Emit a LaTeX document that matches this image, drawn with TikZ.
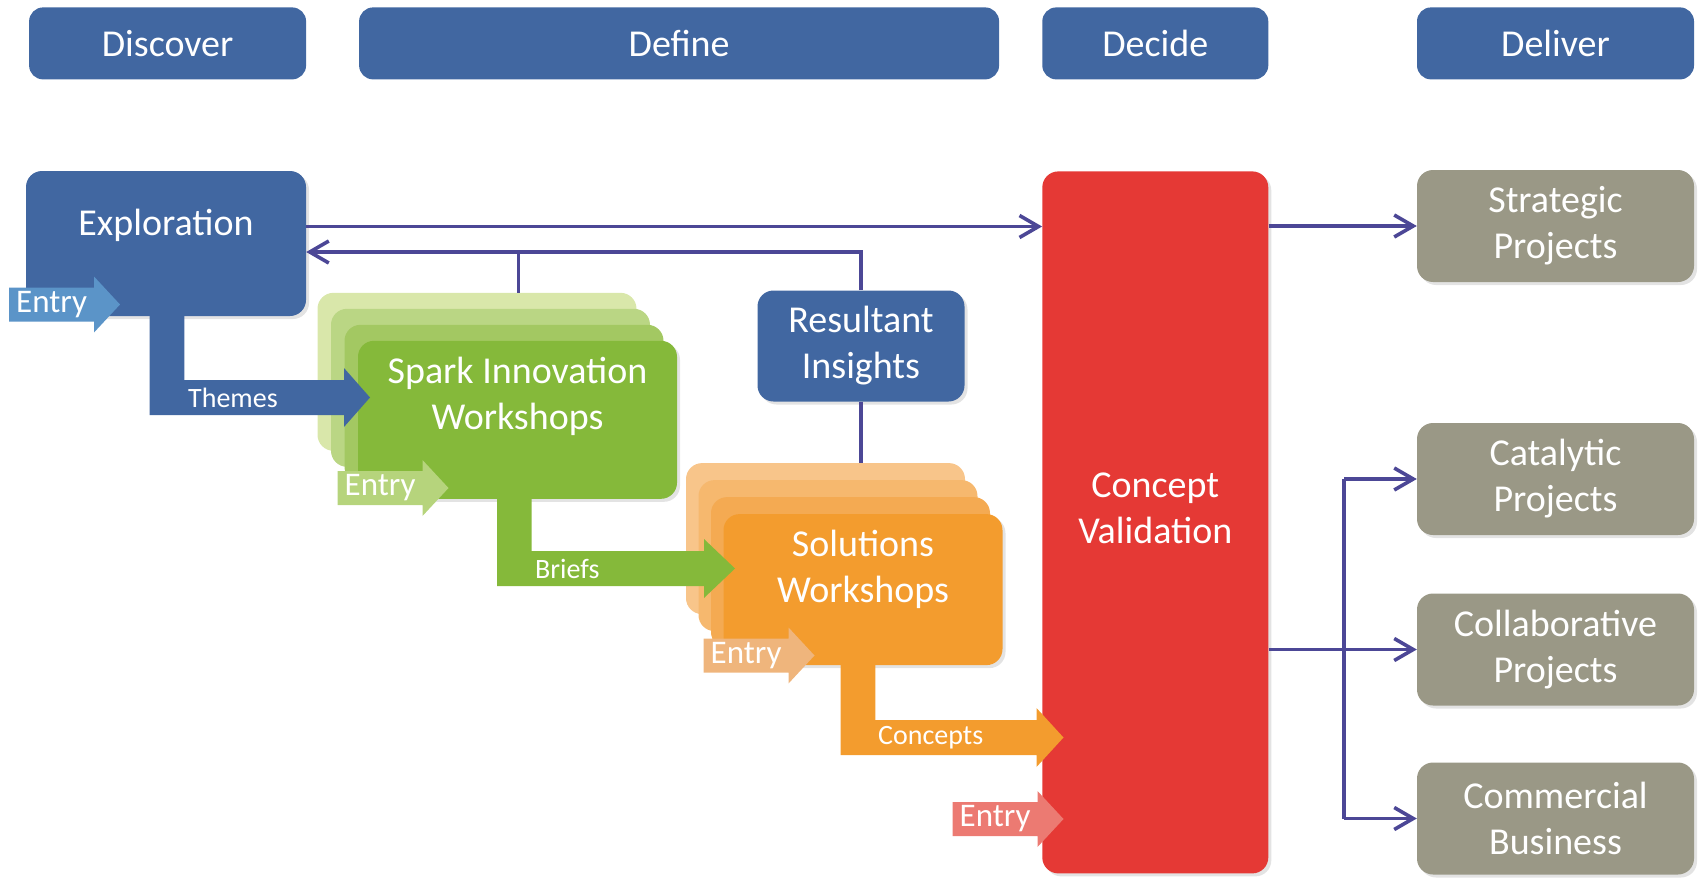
\documentclass[tikz,border=0pt]{standalone}
\usepackage{fontspec}
\setmainfont{Carlito}
\usetikzlibrary{positioning,calc,arrows.meta,shadows}

\definecolor{phaseblue}{RGB}{65,103,161}
\definecolor{entryblue}{RGB}{91,148,200}
\definecolor{sparkgreen}{RGB}{133,185,58}
\definecolor{sparkA}{RGB}{163,200,98}
\definecolor{sparkB}{RGB}{186,214,132}
\definecolor{sparkC}{RGB}{217,231,170}
\definecolor{entrygreen}{RGB}{182,212,124}
\definecolor{solorange}{RGB}{243,156,46}
\definecolor{orangeA}{RGB}{244,170,82}
\definecolor{orangeB}{RGB}{246,184,110}
\definecolor{orangeC}{RGB}{248,197,138}
\definecolor{entryorange}{RGB}{239,181,124}
\definecolor{cvred}{RGB}{229,57,53}
\definecolor{entryred}{RGB}{236,122,114}
\definecolor{outgray}{RGB}{154,152,134}
\definecolor{linkblue}{RGB}{76,71,150}

\tikzset{
  stack/.style={rounded corners=16pt, inner sep=0pt},
  blk/.style={stack, drop shadow={opacity=0.22, shadow xshift=3pt, shadow yshift=-3pt}},
  hdr/.style={rounded corners=14pt, fill=phaseblue, minimum height=72pt, inner sep=0pt,
    text=white, font=\fontsize{38}{46}\selectfont},
  outbox/.style={blk, fill=outgray, minimum width=277pt, minimum height=112pt,
    text=white, align=center, font=\fontsize{38}{46}\selectfont},
  txt/.style={text=white, align=center, inner sep=0pt, font=\fontsize{38}{46}\selectfont},
  lbl/.style={text=white, inner sep=0pt, font=\fontsize{28}{32}\selectfont},
  entrytxt/.style={text=white, inner sep=0pt, font=\fontsize{33}{38}\selectfont},
  link/.style={draw=linkblue, line width=3.6pt},
  linkarrow/.style={-{Straight Barb[length=19pt,width=22pt]}},
}

% fat elbow arrow: colour, x left, x right, y start, body top, body bottom, head base, tip
\newcommand{\elbowarrow}[8]{%
  \fill[#1] (#2,#4) -- (#3,#4) -- (#3,#5) -- (#7,#5) -- (#7,#5-12) -- (#8,{(#5+#6)/2})
    -- (#7,#6+12) -- (#7,#6) -- (#2,#6) -- cycle;}

% entry arrow: node name, colour, left x, centre y
\newcommand{\entryarrow}[4]{%
  \fill[#2] (#3,#4-17) -- ++(85,0) -- ++(0,-11) -- ++(26,28) -- ++(-26,28) -- ++(0,-11) -- ++(-85,0) -- cycle;
  \node[entrytxt, anchor=west] (#1) at (#3+7,#4) {Entry};}

\begin{document}
\begin{tikzpicture}[x=1pt,y=-1pt]
\useasboundingbox (0,0) rectangle (1701,878);

% Phase headers
\node[hdr, minimum width=277pt] (discover) at (167.6,43.4) {Discover};
\node[hdr, minimum width=640pt] (define) at (679.1,43.4) {Define};
\node[hdr, minimum width=226pt] (decide) at (1155.3,43.4) {Decide};
\node[hdr, minimum width=277pt] (deliver) at (1555.5,43.4) {Deliver};

% Exploration
\node[blk, fill=phaseblue, minimum width=280pt, minimum height=145pt] (explore) at (166,243.5) {};
\node[txt] (exploretext) at ([yshift=18pt]explore.center) {Exploration};

% Spark workshops (stacked)
\foreach \i/\c in {3/sparkC,2/sparkB,1/sparkA}
  \node[stack, fill=\c, minimum width=319pt, minimum height=158pt] (spark\i) at (517.5-13.5*\i,419.8-16*\i) {};
\node[blk, fill=sparkgreen, minimum width=319pt, minimum height=158pt] (spark) at (517.5,419.8) {};
\node[txt] (sparktext) at ([yshift=23pt]spark.center) {Spark Innovation\\Workshops};

% Solutions workshops (stacked)
\foreach \i/\c in {3/orangeC,2/orangeB,1/orangeA}
  \node[stack, fill=\c, minimum width=279pt, minimum height=151pt] (sol\i) at (863-12.5*\i,589.6-17*\i) {};
\node[blk, fill=solorange, minimum width=279pt, minimum height=151pt] (sol) at (863,589.6) {};
\node[txt] (soltext) at ([yshift=20pt]sol.center) {Solutions\\Workshops};

% Resultant insights
\node[blk, fill=phaseblue, minimum width=207pt, minimum height=111pt, txt] (insight) at (861,346) {Resultant\\Insights};

% Concept validation
\node[blk, fill=cvred, minimum width=226pt, minimum height=702pt] (cv) at (1155.3,522.4) {};
\node[txt] (cvtext) at ([yshift=14pt]cv.center) {Concept\\Validation};

% Outcomes
\node[outbox] (strat) at (1555.5,226) {Strategic\\Projects};
\node[outbox] (catal) at (1555.5,479) {Catalytic\\Projects};
\node[outbox] (collab) at (1555.5,649.5) {Collaborative\\Projects};
\node[outbox] (comm) at (1555.5,818.5) {Commercial\\Business};

% Fat flow arrows
\elbowarrow{phaseblue}{149.7}{184.4}{312}{380}{415}{344}{370}
\node[lbl, anchor=west] (themes) at (188,397.5) {Themes};
\elbowarrow{sparkgreen}{497}{531.6}{495}{551}{586}{704}{735}
\node[lbl, anchor=west] (briefs) at (535,568.5) {Briefs};
\elbowarrow{solorange}{840.7}{875.4}{660}{720}{755}{1036.5}{1063.5}
\node[lbl, anchor=west] (concepts) at (878,737.5) {Concepts};

% Entry points
\entryarrow{entry1}{entryblue}{9}{304.5}
\entryarrow{entry2}{entrygreen}{337.5}{488}
\entryarrow{entry3}{entryorange}{703.5}{655.5}
\entryarrow{entry4}{entryred}{952.5}{819}

% Links
\coordinate (topline) at ([yshift=17pt]explore.east);
\draw[link, linkarrow] (topline) -- (topline -| cv.west);
\draw[link, linkarrow] (insight.north) |- ([yshift=-8.5pt]explore.east);
\coordinate (branch) at (518.5,252.5);
\draw[link] (branch) -- (branch |- spark3.north);
\draw[link] (insight.south) -- (insight.south |- sol3.north);

\draw[link, linkarrow] (cv.east |- strat) -- (strat.west);
\draw[link, linkarrow] (cv.east |- collab) -- (collab.west);
\coordinate (fork) at (1344,649.5);
\draw[link] (fork |- catal) -- (fork |- comm);
\draw[link, linkarrow] (fork |- catal) -- (catal.west);
\draw[link, linkarrow] (fork |- comm) -- (comm.west);

\end{tikzpicture}
\end{document}
